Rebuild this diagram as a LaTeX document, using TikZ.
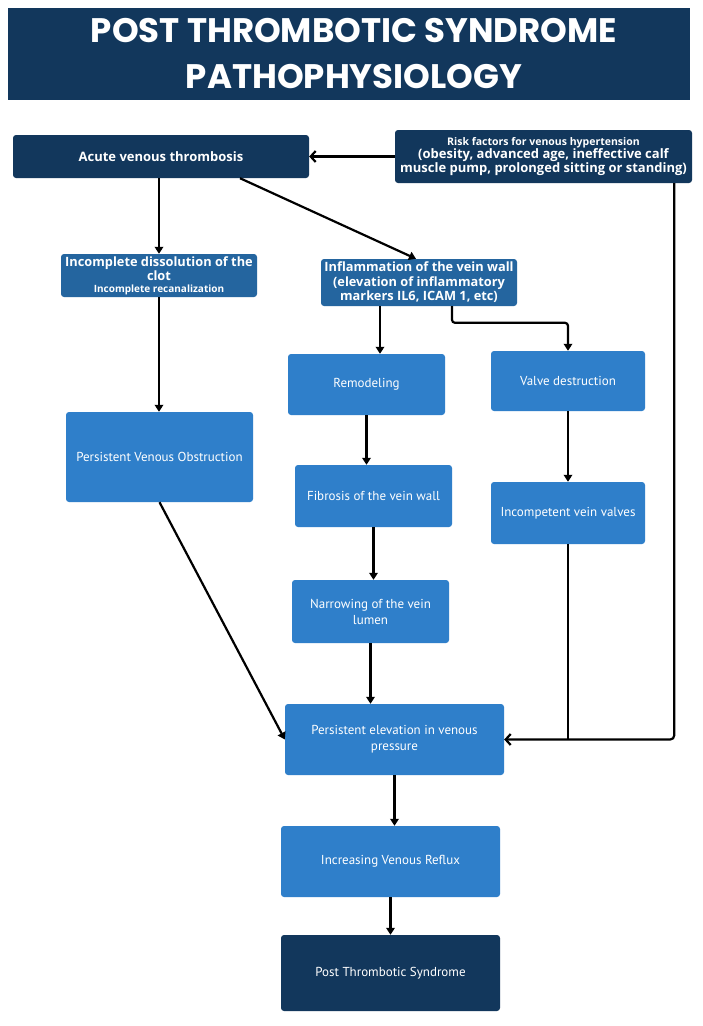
\documentclass[tikz,border=0pt]{standalone}
\usepackage{fontspec}
\setmainfont{PT Sans}
\newfontfamily\titlefont{Poppins}
\newfontfamily\bfont{Open Sans}
\usetikzlibrary{arrows.meta,calc}
\definecolor{navy}{HTML}{12375C}
\definecolor{midblue}{HTML}{24659F}
\definecolor{bright}{HTML}{2F7FCA}
\begin{document}
\begin{tikzpicture}[x=1pt,y=-1pt,
  box/.style={rectangle, rounded corners=3pt, inner sep=0pt, align=center, text=white},
  navybox/.style={box, fill=navy},
  midbox/.style={box, fill=midblue},
  brightbox/.style={box, fill=bright, font=\fontsize{13}{16}\selectfont},
  conn/.style={line width=2.2pt, black},
  tri/.style={conn, -{Triangle[length=7pt,width=8.5pt]}},
  barb/.style={conn, -{Straight Barb[length=5pt,width=11pt,line width=2.2pt]}}
]
\fill[white] (0,0) rectangle (702,1026);
\useasboundingbox (0,0) rectangle (702,1026);

\node[navybox, rounded corners=0pt, minimum width=682pt, minimum height=92pt] (title) at (349,54) {};
\node[text=white, align=center, inner sep=0pt,
  font=\titlefont\bfseries\fontsize{34}{46}\selectfont] (titletext) at (354,54)
  {POST THROMBOTIC SYNDROME\\PATHOPHYSIOLOGY};

\node[navybox, minimum width=296pt, minimum height=43pt,
  font=\bfont\bfseries\fontsize{13}{15}\selectfont] (acute) at (161,156.5) {Acute venous thrombosis};

\node[navybox, minimum width=297pt, minimum height=53pt] (risk) at (543.5,156.5)
  {{\bfont\bfseries\fontsize{10.5}{14}\selectfont Risk factors for venous hypertension}\\
   {\bfont\bfseries\fontsize{13}{14.5}\selectfont (obesity, advanced age, ineffective calf}\\
   {\bfont\bfseries\fontsize{13}{14.5}\selectfont muscle pump, prolonged sitting or standing)}};

\node[midbox, minimum width=196pt, minimum height=43pt] (incomplete) at (159,275.5)
  {{\bfont\bfseries\fontsize{12.8}{14.5}\selectfont Incomplete dissolution of the}\\
   {\bfont\bfseries\fontsize{12.8}{14.5}\selectfont clot}\\
   {\bfont\bfseries\fontsize{10}{12}\selectfont Incomplete recanalization}};

\node[midbox, minimum width=196pt, minimum height=47pt,
  font=\bfont\bfseries\fontsize{12.8}{14.5}\selectfont] (inflam) at (419,282.5)
  {Inflammation of the vein wall\\(elevation of inflammatory\\markers IL6, ICAM 1, etc)};

\node[brightbox, minimum width=157pt, minimum height=61pt] (remodel) at (366.5,384.5) {Remodeling};
\node[brightbox, minimum width=154pt, minimum height=60pt] (valve) at (568,381) {Valve destruction};
\node[brightbox, minimum width=187pt, minimum height=90pt] (obstruct) at (159.5,457) {Persistent Venous Obstruction};
\node[brightbox, minimum width=157pt, minimum height=62pt] (fibrosis) at (373.5,496) {Fibrosis of the vein wall};
\node[brightbox, minimum width=154pt, minimum height=62pt] (incompetent) at (568,513) {Incompetent vein valves};
\node[brightbox, minimum width=157pt, minimum height=63pt] (narrowing) at (370.5,611.5) {Narrowing of the vein\\lumen};
\node[brightbox, minimum width=219pt, minimum height=71pt] (elevation) at (394.5,739.5) {Persistent elevation in venous\\pressure};
\node[brightbox, minimum width=219pt, minimum height=71pt] (reflux) at (390.5,861.5) {Increasing Venous Reflux};
\node[navybox, minimum width=219pt, minimum height=76pt, font=\fontsize{13}{16}\selectfont] (pts) at (390.5,973) {Post Thrombotic Syndrome};

% connectors
\draw[barb] (risk.west) -- (acute.east);
\draw[tri] (incomplete.north |- acute.south) -- (incomplete.north);
\draw[tri] ($(acute.south)+(79,0)$) -- ($(inflam.north)+(-3,0)$);
\draw[tri] (incomplete.south) -- (incomplete.south |- obstruct.north);
\draw[tri] ($(inflam.south)+(-39,0)$) coordinate (a1) -- (a1 |- remodel.north);
\draw[tri, rounded corners=3pt] ($(inflam.south)+(33,0)$) |- ($(valve.north)+(0,-28)$) -- (valve.north);
\draw[tri] (remodel.south) -- (remodel.south |- fibrosis.north);
\draw[tri] (fibrosis.south) -- (fibrosis.south |- narrowing.north);
\draw[tri] (valve.south) -- (incompetent.north);
\draw[tri] (narrowing.south) -- (narrowing.south |- elevation.north);
\draw[tri] (obstruct.south) -- (elevation.west);
\draw[barb, rounded corners=4pt] ($(risk.south east)+(-18,0)$) |- (elevation.east);
\draw[conn] (incompetent.south) -- (incompetent.south |- elevation.east);
\draw[tri] (elevation.south) -- (elevation.south |- reflux.north);
\draw[tri] (reflux.south) -- (reflux.south |- pts.north);
\end{tikzpicture}
\end{document}
